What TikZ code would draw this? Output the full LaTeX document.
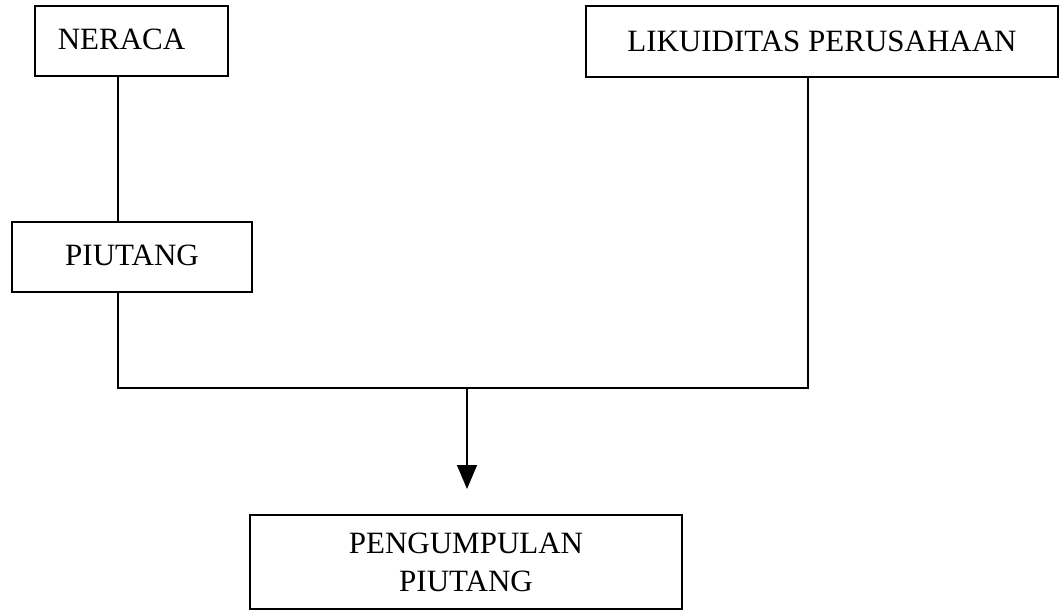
\documentclass[tikz,border=0pt]{standalone}
\usepackage{fontspec}
\setmainfont{Liberation Serif}
\usetikzlibrary{arrows.meta}
\begin{document}
\begin{tikzpicture}[x=1pt,y=-1pt,
  box/.style={draw, line width=1.3pt, rectangle, inner sep=0pt, align=center,
    font=\fontsize{31}{38}\selectfont},
  conn/.style={line width=1.3pt}]
\useasboundingbox (0,0) rectangle (1061,610);
\node[box, minimum width=193, minimum height=70] (neraca) at (131.5,41) {\raisebox{4pt}{NERACA}\hspace*{20pt}};
\node[box, minimum width=472, minimum height=71] (lik) at (822,41.5) {\raisebox{-8pt}{LIKUIDITAS PERUSAHAAN}};
\node[box, minimum width=240, minimum height=70] (piutang) at (132,257) {\raisebox{4pt}{PIUTANG}};
\node[box, minimum width=432, minimum height=94] (pen) at (466,562) {PENGUMPULAN\\PIUTANG};
\coordinate (j1) at (118,388);
\coordinate (j2) at (808,388);
\coordinate (a1) at (467,388);
\coordinate (a2) at (467,489);
\draw[conn] (neraca.south -| j1) -- (piutang.north -| j1);
\draw[conn] (piutang.south -| j1) -- (j1) -- (j2) -- (lik.south -| j2);
\draw[conn, -{Triangle[width=20pt,length=24pt]}] (a1) -- (a2);
\end{tikzpicture}
\end{document}
